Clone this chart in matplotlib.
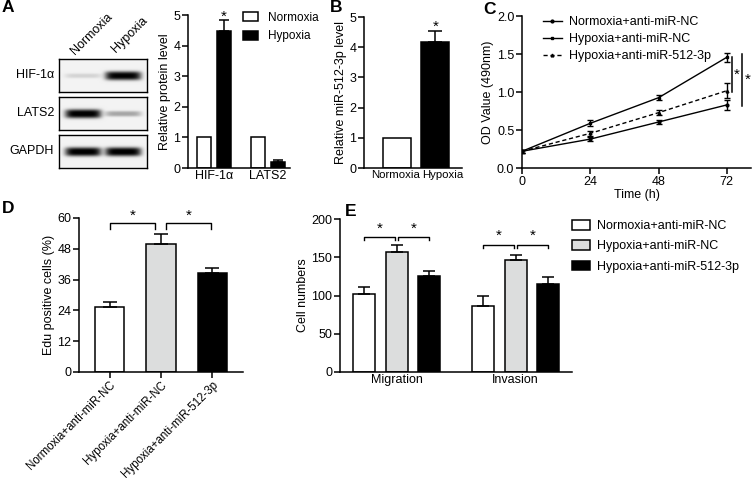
import numpy as np
import matplotlib
matplotlib.use("Agg")
import matplotlib.pyplot as plt
from matplotlib.lines import Line2D
from matplotlib.transforms import ScaledTranslation

plt.rcParams['font.family'] = ['Liberation Sans', 'DejaVu Sans']
plt.rcParams['font.size'] = 9
plt.rcParams['axes.linewidth'] = 1.1

# ---- data ----
# A: western blot (relative band darkness per lane) and quantification
blot_rows = ["HIF-1α", "LATS2", "GAPDH"]
blot_lanes = ["Normoxia", "Hypoxia"]
blot_darkness = [[0.12, 0.95], [0.97, 0.30], [0.97, 0.97]]
protein_groups = ["HIF-1α", "LATS2"]
protein_normoxia = [1.0, 1.0]
protein_hypoxia = [4.48, 0.18]
protein_hypoxia_err = [0.37, 0.07]

# B: miR-512-3p level
mir_groups = ["Normoxia", "Hypoxia"]
mir_level = [1.0, 4.18]
mir_err = [0.0, 0.37]

# C: MTT assay
time_h = [0, 24, 48, 72]
od_labels = ["Normoxia+anti-miR-NC", "Hypoxia+anti-miR-NC", "Hypoxia+anti-miR-512-3p"]
od_norm = [0.22, 0.38, 0.605, 0.83]
od_norm_err = [0.02, 0.03, 0.03, 0.065]
od_hyp = [0.22, 0.588, 0.925, 1.457]
od_hyp_err = [0.02, 0.04, 0.035, 0.06]
od_hyp_anti = [0.22, 0.456, 0.728, 1.017]
od_hyp_anti_err = [0.02, 0.03, 0.035, 0.10]

# D: EdU
edu_groups = ["Normoxia+anti-miR-NC", "Hypoxia+anti-miR-NC", "Hypoxia+anti-miR-512-3p"]
edu_values = [25.5, 50.0, 38.5]
edu_err = [1.9, 3.6, 2.2]

# E: transwell
cell_groups = ["Migration", "Invasion"]
cell_series = ["Normoxia+anti-miR-NC", "Hypoxia+anti-miR-NC", "Hypoxia+anti-miR-512-3p"]
cell_values = [[101.9, 86.6], [157.0, 146.0], [125.5, 115.4]]
cell_err = [[9.6, 13.1], [8.7, 7.4], [6.1, 8.8]]

fill3 = ["white", "#dcdddd", "black"]

W, H = 752, 479
fig = plt.figure(figsize=(W / 100, H / 100), dpi=100)


def box(l, t, r, b):
    return [l / W, 1 - b / H, (r - l) / W, (b - t) / H]


def prism(ax):
    for s in ["top", "right"]:
        ax.spines[s].set_visible(False)
    ax.tick_params(direction="out", length=4, width=1.1, pad=1.5, labelsize=9)


def ftext(x, y, s, **kw):
    fig.text(x / W, 1 - y / H, s, **kw)


def bracket(ax, x0, x1, y, drop):
    ax.plot([x0, x0, x1, x1], [y - drop, y, y, y - drop], color="black", lw=1.0, clip_on=False)


# ---- A: blot ----
blot_tops = [59, 97, 135]
for r, name in enumerate(blot_rows):
    t = blot_tops[r]
    ax = fig.add_axes(box(59, t, 147, t + 33))
    yy, xx = np.mgrid[0:66, 0:176]
    img = np.full(yy.shape, 0.05)
    for j, d in enumerate(blot_darkness[r]):
        cx = 48 + j * 80
        half = 36
        thick = 4 + 5 * d
        prof_x = np.exp(-np.abs((xx - cx) / half) ** 6)
        prof_y = np.exp(-np.abs((yy - 33) / thick) ** 3)
        img = img + d * prof_x * prof_y
    ax.imshow(np.clip(img, 0, 1), cmap="gray_r", vmin=0, vmax=1, aspect="auto",
              interpolation="bilinear")
    ax.set_xticks([])
    ax.set_yticks([])
    for s in ax.spines.values():
        s.set_linewidth(1.0)
    ftext(54, t + 16.5, name, ha="right", va="center", fontsize=9)

ftext(75, 55, blot_lanes[0], rotation=45, rotation_mode="anchor", ha="left", va="baseline", fontsize=9)
ftext(116, 53, blot_lanes[1], rotation=45, rotation_mode="anchor", ha="left", va="baseline", fontsize=9)

# ---- A: quantification ----
axA = fig.add_axes(box(188, 15, 290, 168))
prism(axA)
xa = np.arange(len(protein_groups))
bw = 0.26
axA.bar(xa - 0.185, protein_normoxia, bw, color="white", edgecolor="black", lw=1.1, label="Normoxia")
axA.bar(xa + 0.185, protein_hypoxia, bw, color="black", edgecolor="black", lw=1.1, label="Hypoxia")
axA.errorbar(xa + 0.185, protein_hypoxia, yerr=[np.zeros(2), protein_hypoxia_err], fmt="none",
             ecolor="black", elinewidth=1.1, capsize=3.5, capthick=1.1)
axA.set_xlim(-0.48, 1.41)
axA.set_ylim(0, 5)
axA.set_yticks(range(6))
axA.set_xticks(xa)
axA.set_xticklabels(protein_groups)
axA.tick_params(axis="x", length=0)
axA.set_ylabel("Relative protein level", fontsize=9, labelpad=2)
axA.text(0.185, 4.95, "*", ha="center", va="center", fontsize=11, clip_on=False)
axA.legend(loc="upper left", bbox_to_anchor=(243 / W, 1 - 12 / H), bbox_transform=fig.transFigure,
           frameon=False, fontsize=8.5, handlelength=1.3, handleheight=0.8, handletextpad=0.8,
           labelspacing=0.55, borderpad=0, borderaxespad=0)

# ---- B ----
axB = fig.add_axes(box(364, 17, 462, 168))
prism(axB)
xb = np.arange(len(mir_groups))
axB.bar(xb, mir_level, 0.73, color=["white", "black"], edgecolor="black", lw=1.1)
axB.errorbar(xb[1:], mir_level[1:], yerr=[[0], mir_err[1:]], fmt="none", ecolor="black",
             elinewidth=1.1, capsize=5, capthick=1.1)
axB.set_xlim(-0.857, 1.69)
axB.set_ylim(0, 5)
axB.set_yticks(range(6))
axB.set_xticks(xb)
axB.set_xticklabels(mir_groups, fontsize=8.2)
axB.tick_params(axis="x", length=0)
lblB = axB.get_xticklabels()
lblB[0].set_transform(lblB[0].get_transform() + ScaledTranslation(-0.01, 0, fig.dpi_scale_trans))
lblB[1].set_transform(lblB[1].get_transform() + ScaledTranslation(0.07, 0, fig.dpi_scale_trans))
axB.set_ylabel("Relative miR-512-3p level", fontsize=9, labelpad=2)
axB.text(1, 4.68, "*", ha="center", va="center", fontsize=11, clip_on=False)

# ---- C ----
axC = fig.add_axes(box(522, 16, 751, 168))
prism(axC)
styles = [("-", "o"), ("-", "s"), ((0, (3, 2)), "^")]
series = [(od_norm, od_norm_err), (od_hyp, od_hyp_err), (od_hyp_anti, od_hyp_anti_err)]
for (vals, err), (ls, mk), lab in zip(series, styles, od_labels):
    axC.errorbar(time_h, vals, yerr=err, color="black", lw=1.0, ls=ls, marker=mk, ms=2,
                 elinewidth=1.0, capsize=2, capthick=1.0, label=lab)
axC.set_xlim(0, 80.5)
axC.set_ylim(0, 2.0)
axC.set_xticks(time_h)
axC.set_yticks([0, 0.5, 1.0, 1.5, 2.0])
axC.set_yticklabels(["0.0", "0.5", "1.0", "1.5", "2.0"])
axC.set_xlabel("Time (h)", fontsize=9, labelpad=1)
axC.set_ylabel("OD Value (490nm)", fontsize=9, labelpad=2)
handles = [Line2D([], [], color="black", lw=1.0, ls=ls, marker=mk, ms=2) for ls, mk in styles]
axC.legend(handles, od_labels, loc="upper left", bbox_to_anchor=(543 / W, 1 - 16 / H),
           bbox_transform=fig.transFigure, frameon=False, fontsize=9, handlelength=1.5,
           handletextpad=0.55, labelspacing=0.4, borderpad=0, borderaxespad=0)
axC.plot([73.8, 73.8], [1.0, 1.46], color="black", lw=1.1, clip_on=False)
axC.plot([77.3, 77.3], [0.81, 1.50], color="black", lw=1.1, clip_on=False)
axC.text(75.5, 1.22, "*", ha="center", va="center", fontsize=11, clip_on=False)
axC.text(79.3, 1.16, "*", ha="center", va="center", fontsize=11, clip_on=False)

# ---- D ----
axD = fig.add_axes(box(79, 218, 243, 372))
prism(axD)
xd = np.arange(len(edu_groups))
axD.bar(xd, edu_values, 0.57, color=fill3, edgecolor="black", lw=1.1)
axD.errorbar(xd, edu_values, yerr=[np.zeros(3), edu_err], fmt="none", ecolor="black",
             elinewidth=1.1, capsize=5, capthick=1.1)
axD.set_xlim(-0.6, 2.6)
axD.set_ylim(0, 60)
axD.set_yticks(range(0, 61, 12))
axD.set_xticks(xd)
axD.set_xticklabels(edu_groups, rotation=45, ha="right", rotation_mode="anchor", fontsize=8.3)
axD.tick_params(axis="x", pad=1)
axD.set_ylabel("Edu positive cells (%)", fontsize=9, labelpad=2)
bracket(axD, 0.0, 0.88, 58.1, 2.3)
bracket(axD, 1.1, 1.98, 58.1, 2.3)
axD.text(0.44, 60.9, "*", ha="center", va="center", fontsize=11, clip_on=False)
axD.text(1.54, 60.9, "*", ha="center", va="center", fontsize=11, clip_on=False)

# ---- E ----
axE = fig.add_axes(box(340, 219, 572, 372))
prism(axE)
gx = np.arange(len(cell_groups)) * 3.66
for i, lab in enumerate(cell_series):
    xs = gx + (i - 1)
    axE.bar(xs, cell_values[i], 0.68, color=fill3[i], edgecolor="black", lw=1.1, label=lab)
    axE.errorbar(xs, cell_values[i], yerr=[np.zeros(2), cell_err[i]], fmt="none", ecolor="black",
                 elinewidth=1.1, capsize=4.3, capthick=1.1)
axE.set_xlim(-1.745, 5.39)
axE.set_ylim(0, 200)
axE.set_yticks(range(0, 201, 50))
axE.set_xticks(gx)
axE.set_xticklabels(cell_groups)
axE.tick_params(axis="x", length=0)
axE.set_ylabel("Cell numbers", fontsize=9, labelpad=2)
for g, yb in zip(gx, [176.6, 166.5]):
    bracket(axE, g - 1, g - 0.05, yb, 4.5)
    bracket(axE, g + 0.05, g + 1, yb, 4.5)
    axE.text(g - 0.52, yb + 11, "*", ha="center", va="center", fontsize=11, clip_on=False)
    axE.text(g + 0.52, yb + 11, "*", ha="center", va="center", fontsize=11, clip_on=False)
axE.legend(loc="upper left", bbox_to_anchor=(572 / W, 1 - 220 / H), bbox_transform=fig.transFigure,
           frameon=False, fontsize=9, handlelength=1.45, handleheight=0.8, handletextpad=0.55,
           labelspacing=0.65, borderpad=0, borderaxespad=0)

# ---- panel letters ----
for letter, x, y in [("A", 2, 8), ("B", 330, 8), ("C", 483, 10), ("D", 2, 208), ("E", 345, 211)]:
    ftext(x, y, letter, fontsize=12.5, fontweight="bold", ha="left", va="center")

fig.savefig("out.png", dpi=100)
